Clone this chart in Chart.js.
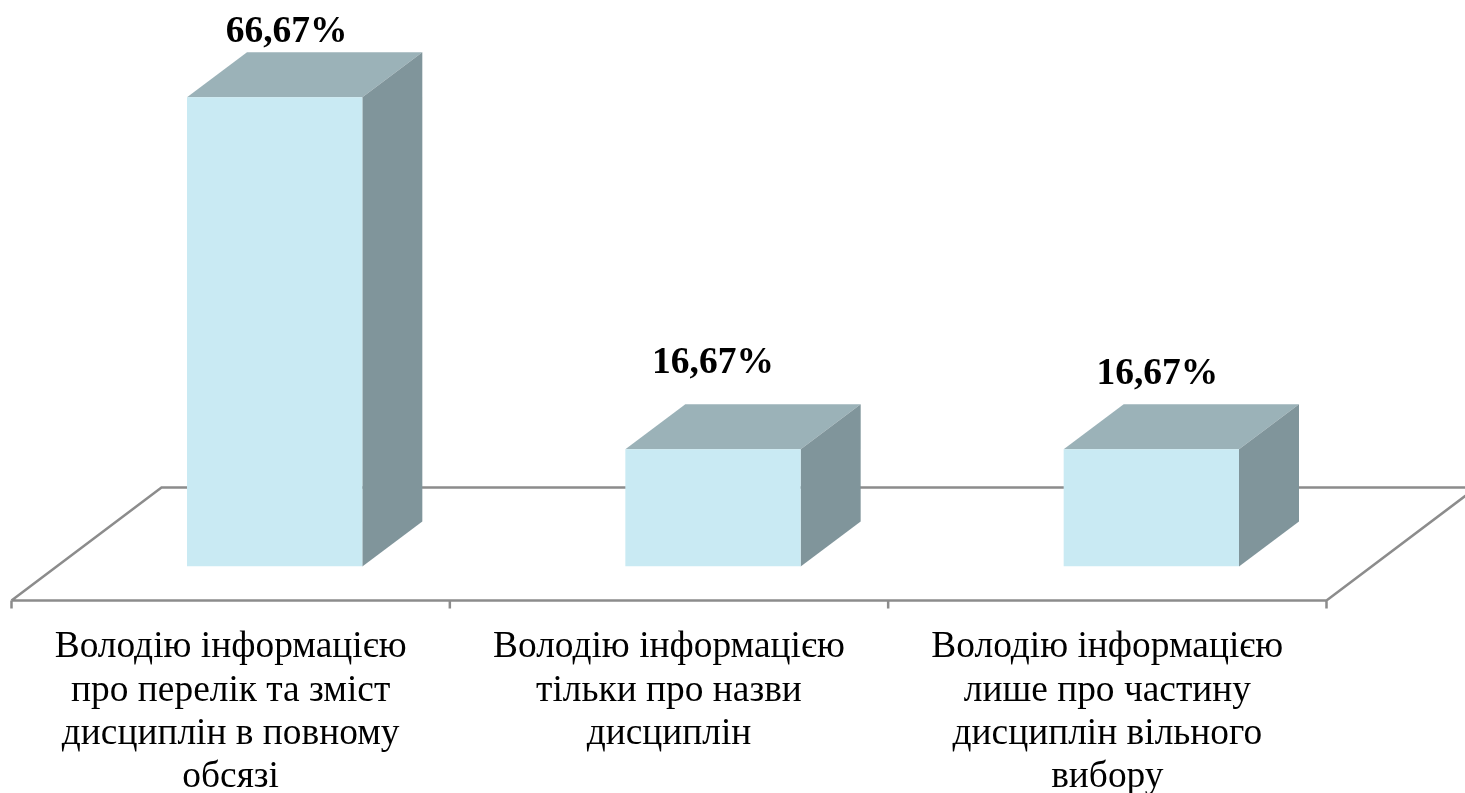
<!DOCTYPE html>
<html>
<head>
<meta charset="utf-8">
<title>chart</title>
<script src="https://cdn.jsdelivr.net/npm/chart.js@4/dist/chart.umd.min.js"></script>
<style>
  html, body { margin: 0; padding: 0; background: #fff; overflow: hidden; }
  canvas { display: block; }
</style>
</head>
<body>
<canvas id="surveyChart" width="1465" height="793"></canvas>
<script>
const categories = [
  ['Володію інформацією', 'про перелік та зміст', 'дисциплін в повному', 'обсязі'],
  ['Володію інформацією', 'тільки про назви', 'дисциплін'],
  ['Володію інформацією', 'лише про частину', 'дисциплін вільного', 'вибору']
];
const shares = [66.67, 16.67, 16.67];

// how the fake 3d box is drawn
const depthX = 60;
const depthY = 45;
const floorFront = 34;   // floor front edge below the bars' base
const floorBack = 79;    // floor back edge above the bars' base
const floorSkew = 150;
const labelOffset = -44; // axis bands sit left of the bars
const valueShiftX = [12, 0, 6];
const valueShiftY = [-68, -89, -78];

const boxPlugin = {
  id: 'box3d',
  beforeDatasetsDraw(chart) {
    const ctx = chart.ctx;
    const x = chart.scales.x;
    const base = chart.scales.y.getPixelForValue(0);
    const band = x.getPixelForValue(1) - x.getPixelForValue(0);
    const left = x.getPixelForValue(0) - band / 2 + labelOffset;
    const right = left + band * categories.length;
    const front = base + floorFront;
    const back = base - floorBack;

    ctx.save();
    ctx.strokeStyle = '#8c8c8c';
    ctx.lineWidth = 2.5;
    ctx.beginPath();
    ctx.moveTo(left, front);
    ctx.lineTo(left + floorSkew, back);
    ctx.lineTo(right + floorSkew, back);
    ctx.moveTo(right + floorSkew, back);
    ctx.lineTo(right, front);
    ctx.lineTo(left, front);
    for (let i = 0; i <= categories.length; i++) {
      ctx.moveTo(left + band * i, front);
      ctx.lineTo(left + band * i, front + 8);
    }
    ctx.stroke();

    // top and side of each box
    chart.getDatasetMeta(0).data.forEach(bar => {
      const p = bar.getProps(['x', 'y', 'base', 'width'], true);
      const l = p.x - p.width / 2;
      const r = p.x + p.width / 2;
      ctx.fillStyle = '#9bb2b8';
      ctx.beginPath();
      ctx.moveTo(l, p.y);
      ctx.lineTo(l + depthX, p.y - depthY);
      ctx.lineTo(r + depthX, p.y - depthY);
      ctx.lineTo(r, p.y);
      ctx.closePath();
      ctx.fill();
      ctx.fillStyle = '#80959b';
      ctx.beginPath();
      ctx.moveTo(r, p.y);
      ctx.lineTo(r + depthX, p.y - depthY);
      ctx.lineTo(r + depthX, p.base - depthY);
      ctx.lineTo(r, p.base);
      ctx.closePath();
      ctx.fill();
    });
    ctx.restore();
  },
  afterDatasetsDraw(chart) {
    const ctx = chart.ctx;
    ctx.save();
    ctx.fillStyle = '#000';
    ctx.font = 'bold 37.5px "Liberation Serif"';
    ctx.textAlign = 'center';
    ctx.textBaseline = 'middle';
    chart.getDatasetMeta(0).data.forEach((bar, i) => {
      const txt = shares[i].toFixed(2).replace('.', ',') + '%';
      ctx.fillText(txt, bar.x + valueShiftX[i], bar.y + valueShiftY[i] + 3);
    });
    ctx.restore();
  }
};

new Chart(document.getElementById('surveyChart'), {
  type: 'bar',
  data: {
    labels: categories,
    datasets: [{
      data: shares,
      backgroundColor: '#c9eaf3',
      borderWidth: 0,
      barPercentage: 0.4,
      categoryPercentage: 1
    }]
  },
  options: {
    responsive: false,
    animation: false,
    layout: { padding: { top: 3.5, left: 55.5, right: 94.5, bottom: 0 } },
    plugins: { legend: { display: false }, tooltip: { enabled: false } },
    scales: {
      x: {
        grid: { display: false },
        border: { display: false },
        afterFit(scale) { scale.height = 226.5; },
        ticks: {
          color: '#000',
          padding: 51.5,
          labelOffset: labelOffset,
          maxRotation: 0,
          autoSkip: false,
          font: { family: '"Liberation Serif"', size: 37.4, lineHeight: 1.155 }
        }
      },
      y: {
        display: false,
        min: 0,
        max: 80
      }
    }
  },
  plugins: [boxPlugin]
});
</script>
</body>
</html>
